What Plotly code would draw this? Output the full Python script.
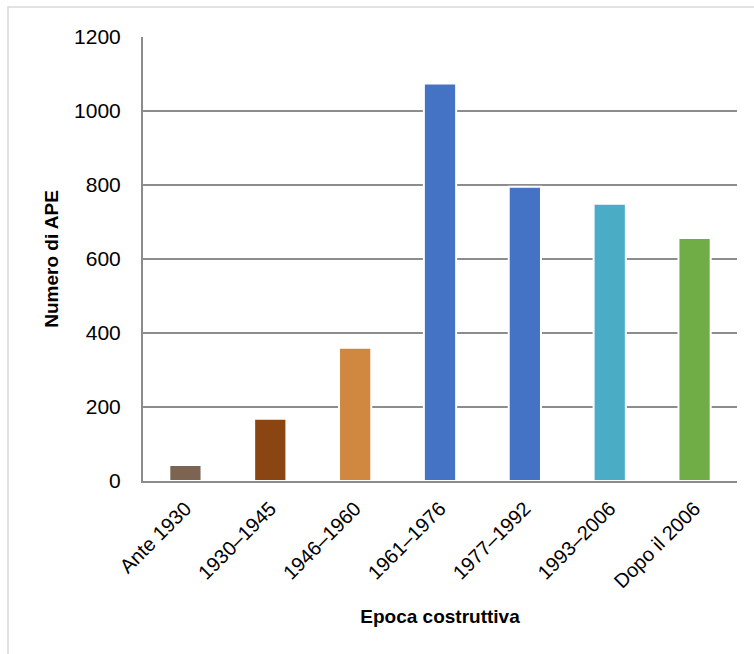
import plotly.graph_objects as go

# Building-age classes and number of energy certificates (APE) per class
categories = ["Ante 1930", "1930–1945", "1946–1960", "1961–1976",
              "1977–1992", "1993–2006", "Dopo il 2006"]
counts = [43, 168, 360, 1074, 795, 749, 657]
bar_colors = ["#7B6451", "#8B4513", "#D08840", "#4472C4",
              "#4472C4", "#4BACC6", "#70AD47"]

y_ticks = [0, 200, 400, 600, 800, 1000, 1200]

W, H = 754, 654
L, R, T, B = 143, 17, 37, 173

fig = go.Figure(
    go.Bar(
        x=categories,
        y=counts,
        marker=dict(color=bar_colors, line=dict(color="white", width=2)),
        width=0.38,
    )
)

font_main = "Liberation Sans, Arial, sans-serif"
font_title = "Liberation Sans Narrow, Arial Narrow, Liberation Sans, sans-serif"

fig.update_layout(
    width=W,
    height=H,
    margin=dict(l=L, r=R, t=T, b=B, pad=0),
    paper_bgcolor="white",
    plot_bgcolor="white",
    showlegend=False,
    font=dict(family=font_main, color="#000000", size=18),
    xaxis=dict(
        range=[-0.5, 6.5],
        tickangle=-45,
        tickfont=dict(size=20, family=font_main),
        showline=True,
        linecolor="#8C8C8C",
        linewidth=2,
        showgrid=False,
        ticks="",
        ticklabelstandoff=6,
        title=dict(text="Epoca costruttiva",
                   font=dict(size=19, family=font_title, weight="bold"),
                   standoff=18),
    ),
    yaxis=dict(
        range=[0, 1200],
        tickvals=y_ticks,
        tickfont=dict(size=21, family=font_main),
        showline=True,
        linecolor="#8C8C8C",
        linewidth=2,
        showgrid=True,
        gridcolor="#8C8C8C",
        gridwidth=2,
        zeroline=False,
        ticks="",
        ticklabelstandoff=16,
        title=dict(text="Numero di APE",
                   font=dict(size=19, family=font_title, weight="bold"),
                   standoff=10),
    ),
)

# Light frame around the chart (top and left edges visible)
px0, py0 = 8, 7
plot_w, plot_h = W - L - R, H - T - B
fig.add_shape(
    type="rect",
    xref="paper", yref="paper",
    x0=(px0 - L) / plot_w, x1=(W + 20 - L) / plot_w,
    y0=-(B + 20) / plot_h, y1=(H - B - py0) / plot_h,
    line=dict(color="#D9D9D9", width=1.5),
    fillcolor="rgba(0,0,0,0)",
    layer="below",
)

fig.write_html("out.html")
